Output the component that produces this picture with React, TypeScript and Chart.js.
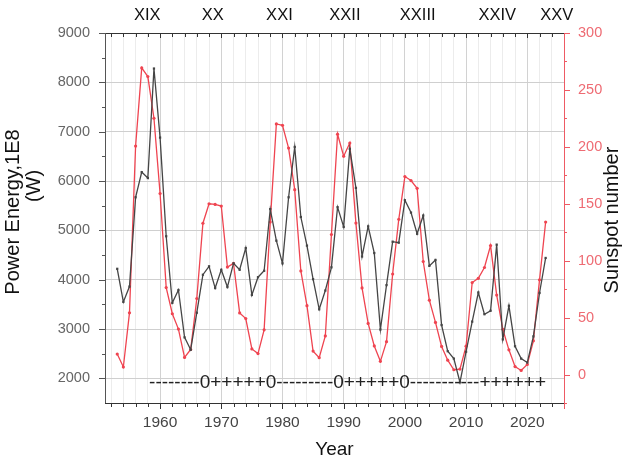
import React, { useEffect, useRef } from "react";
import { Chart, registerables } from "chart.js";

Chart.register(...registerables);

const years: number[] = [];
for (let y = 1953; y <= 2023; y++) years.push(y);

const powerEnergy = [
  4220, 3550, 3860, 5670, 6180, 6060, 8280, 6880, 4880, 3530,
  3790, 2830, 2580, 3330, 4100, 4270, 3830, 4200, 3850, 4330,
  4200, 4640, 3690, 4050, 4180, 5430, 4790, 4330, 5670, 6690,
  5270, 4690, 4010, 3400, 3780, 4250, 5470, 5070, 6650, 5860,
  4470, 5080, 4540, 2990, 3890, 4770, 4750, 5610, 5360, 4930,
  5300, 4280, 4400, 3080, 2550, 2400, 1920, 2540, 3150, 3740,
  3300, 3370, 4710, 2790, 3470, 2650, 2400, 2320, 2850, 3730,
  4440,
];

const sunspots = [
  18, 6.6, 54.2, 200.7, 269.3, 261.7, 225.1, 159.0, 76.4, 53.4,
  39.9, 15.0, 22.0, 66.8, 132.9, 150.0, 149.4, 148.0, 94.4, 97.6,
  54.1, 49.2, 22.5, 18.4, 39.3, 134, 220.1, 218.9, 198.9, 162.4,
  91.0, 60.5, 20.6, 14.8, 33.9, 123.0, 211.1, 191.8, 203.3, 133.0,
  76.1, 44.9, 25.1, 11.6, 28.9, 88.3, 136.3, 173.9, 170.4, 163.6,
  99.3, 65.3, 45.8, 24.7, 12.6, 4.2, 4.8, 24.9, 80.8, 84.5,
  94.0, 113.3, 69.8, 39.8, 21.7, 7.0, 3.6, 8.8, 29.6, 83.2,
  134,
];

const cycleLabels = ["XIX", "XX", "XXI", "XXII", "XXIII", "XXIV", "XXV"];
const cycleYears = [1957.9, 1968.6, 1979.5, 1990.2, 2002.1, 2015.1, 2024.8];

const phaseString = "--------0+++++0---------0+++++0-----------++++++";
const phaseStartYear = 1958.2;

const FONT = "'Liberation Sans', Arial, sans-serif";

const overlay = {
  id: "overlay",
  afterDraw(chart: any) {
    const { ctx, chartArea } = chart;
    const { left, right, top, bottom } = chartArea;
    const x = chart.scales.x;
    const yL = chart.scales.y;
    const yR = chart.scales.y1;
    ctx.save();
    ctx.lineWidth = 1;

    // bottom & top axis
    ctx.strokeStyle = "#333";
    ctx.beginPath();
    ctx.moveTo(left, bottom + 0.5);
    ctx.lineTo(right, bottom + 0.5);
    ctx.moveTo(left, top + 0.5);
    ctx.lineTo(right, top + 0.5);
    for (let v = 1952; v <= 2026; v += 2) {
      const px = Math.round(x.getPixelForValue(v)) + 0.5;
      const major = v % 10 === 0;
      ctx.moveTo(px, bottom);
      ctx.lineTo(px, bottom + (major ? 6 : 4));
      ctx.moveTo(px, top);
      ctx.lineTo(px, top + (major ? 5 : 4));
    }
    ctx.stroke();

    // left axis
    ctx.strokeStyle = "#555";
    ctx.beginPath();
    ctx.moveTo(left + 0.5, top);
    ctx.lineTo(left + 0.5, bottom);
    for (let v = 2000; v <= 9000; v += 500) {
      const py = Math.round(yL.getPixelForValue(v)) + 0.5;
      const major = v % 1000 === 0;
      ctx.moveTo(left, py);
      ctx.lineTo(left - (major ? 6 : 3), py);
    }
    ctx.stroke();

    // right axis
    ctx.strokeStyle = "#ee5a64";
    ctx.beginPath();
    ctx.moveTo(right + 0.5, top);
    ctx.lineTo(right + 0.5, bottom + 6);
    for (let v = -25; v <= 300; v += 25) {
      const py = Math.round(yR.getPixelForValue(v)) + 0.5;
      const major = v % 50 === 0;
      ctx.moveTo(right, py);
      ctx.lineTo(right + (major ? 6 : 3), py);
    }
    ctx.stroke();

    // cycle labels
    ctx.fillStyle = "#111";
    ctx.font = `16.5px ${FONT}`;
    ctx.textAlign = "center";
    ctx.textBaseline = "middle";
    cycleLabels.forEach((lab, i) => {
      ctx.fillText(lab, x.getPixelForValue(cycleYears[i]), 15);
    });

    // phase string
    ctx.font = `19px ${FONT}`;
    ctx.textAlign = "left";
    ctx.fillStyle = "#222";
    ctx.fillText(phaseString, x.getPixelForValue(phaseStartYear), 383);

    // axis titles
    ctx.fillStyle = "#111";
    ctx.font = `19px ${FONT}`;
    ctx.textAlign = "center";
    ctx.fillText("Year", (left + right) / 2, 450);

    ctx.font = `20px ${FONT}`;
    ctx.save();
    ctx.translate(13, 212);
    ctx.rotate(-Math.PI / 2);
    ctx.fillText("Power Energy,1E8", 0, 0);
    ctx.restore();
    ctx.save();
    ctx.translate(34, 186);
    ctx.rotate(-Math.PI / 2);
    ctx.fillText("(W)", 0, 0);
    ctx.restore();
    ctx.save();
    ctx.translate(612, 220);
    ctx.rotate(-Math.PI / 2);
    ctx.fillText("Sunspot number", 0, 0);
    ctx.restore();

    ctx.restore();
  },
};

export default function App() {
  const ref = useRef<HTMLCanvasElement>(null);
  useEffect(() => {
    if (!ref.current) return;
    const chart = new Chart(ref.current, {
      type: "line",
      data: {
        labels: years,
        datasets: [
          {
            label: "Power Energy",
            data: years.map((y, i) => ({ x: y, y: powerEnergy[i] })),
            yAxisID: "y",
            borderColor: "#454545",
            backgroundColor: "#454545",
            borderWidth: 1.3,
            pointStyle: "rect",
            pointRadius: 1.6,
            pointBorderWidth: 0,
            tension: 0,
            order: 1,
          },
          {
            label: "Sunspot number",
            data: years.map((y, i) => ({ x: y, y: sunspots[i] })),
            yAxisID: "y1",
            borderColor: "#ef4450",
            backgroundColor: "#ef4450",
            borderWidth: 1.3,
            pointRadius: 1.6,
            pointBorderWidth: 0,
            tension: 0,
            order: 2,
          },
        ],
      },
      options: {
        animation: false,
        responsive: true,
        maintainAspectRatio: false,
        layout: { padding: { top: 33, left: 0, right: 0, bottom: 0 } },
        plugins: { legend: { display: false }, tooltip: { enabled: false } },
        scales: {
          x: {
            type: "linear",
            min: 1951,
            max: 2026,
            afterBuildTicks: (scale: any) => {
              const t = [];
              for (let v = 1952; v <= 2026; v += 2) t.push({ value: v });
              scale.ticks = t;
            },
            afterFit: (scale: any) => {
              scale.height = 60;
            },
            ticks: {
              autoSkip: false,
              maxRotation: 0,
              padding: 10,
              color: "#444",
              font: { family: FONT, size: 15.5 },
              callback: (v: any) => (Number(v) % 10 === 0 ? String(v) : ""),
            },
            grid: {
              drawTicks: false,
              color: (c: any) =>
                c.tick && c.tick.value % 10 === 0 ? "#d2d2d2" : "#ececec",
            },
            border: { display: false },
          },
          y: {
            position: "left",
            min: 1500,
            max: 9000,
            afterBuildTicks: (scale: any) => {
              const t = [];
              for (let v = 2000; v <= 9000; v += 1000) t.push({ value: v });
              scale.ticks = t;
            },
            afterFit: (scale: any) => {
              scale.width = 105;
            },
            ticks: {
              padding: 15,
              color: "#666",
              font: { family: FONT, size: 14.5 },
              callback: (v: any) => String(v),
            },
            grid: { drawTicks: false, color: "#cfcfcf" },
            border: { display: false },
          },
          y1: {
            position: "right",
            min: -25,
            max: 300,
            afterBuildTicks: (scale: any) => {
              const t = [];
              for (let v = 0; v <= 300; v += 50) t.push({ value: v });
              scale.ticks = t;
            },
            afterFit: (scale: any) => {
              scale.width = 61;
            },
            ticks: {
              padding: 14,
              color: "#ee6b73",
              font: { family: FONT, size: 14.5 },
              callback: (v: any) => String(v),
            },
            grid: { display: false, drawTicks: false },
            border: { display: false },
          },
        },
      },
      plugins: [overlay],
    });
    return () => chart.destroy();
  }, []);

  return (
    <div style={{ position: "fixed", left: 0, top: 0, width: 625, height: 463, background: "#fff" }}>
      <canvas ref={ref} />
    </div>
  );
}
